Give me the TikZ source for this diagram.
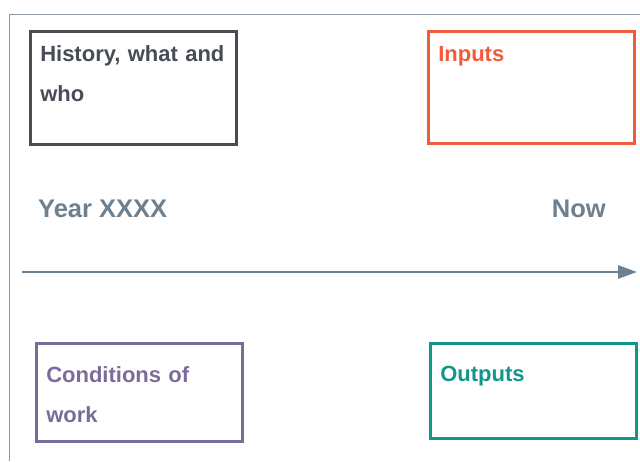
\documentclass[tikz,border=0pt]{standalone}
\usepackage{fontspec}
\setmainfont{Liberation Sans}
\usetikzlibrary{arrows.meta}
\definecolor{histgray}{HTML}{474D57}
\definecolor{inorange}{HTML}{F15A3A}
\definecolor{timegray}{HTML}{6E7F8D}
\definecolor{framegray}{HTML}{8C99A5}
\definecolor{condpurple}{HTML}{7A6C98}
\definecolor{outteal}{HTML}{12968B}
\tikzset{
  panel/.style={draw=#1, text=#1, line width=2.5pt, anchor=north west,
    text width=186pt, align=left, inner xsep=10pt, inner ysep=0pt,
    font=\fontsize{22}{40}\selectfont\bfseries},
  stamp/.style={text=timegray, inner sep=0pt, font=\fontsize{25.5}{28}\selectfont\bfseries}
}
\begin{document}
\begin{tikzpicture}[x=1pt, y=-1pt]
\useasboundingbox (0,0) rectangle (640,461);
\draw[framegray, line width=1pt] (9,461) to (9,14) to (640,14);
\node[panel=histgray, text height=30pt, text depth=83pt] (history) at (29,30) {History, what and\\who};
\node[panel=inorange, text height=30pt, text depth=82pt] (inputs) at (427,30) {Inputs};
\node[stamp, anchor=base west] (year) at (38,217) {Year XXXX};
\node[stamp, anchor=base east] (now) at (606,217) {Now};
\coordinate (past) at (22,272);
\coordinate (present) at (637,272);
\draw[timegray, line width=2.7pt, -{Triangle[length=19pt, width=13pt]}] (past) to (present);
\node[panel=condpurple, text height=39pt, text depth=59pt] (conditions) at (35,342) {Conditions of\\work};
\node[panel=outteal, text height=38pt, text depth=57pt] (outputs) at (429,342) {Outputs};
\end{tikzpicture}
\end{document}
